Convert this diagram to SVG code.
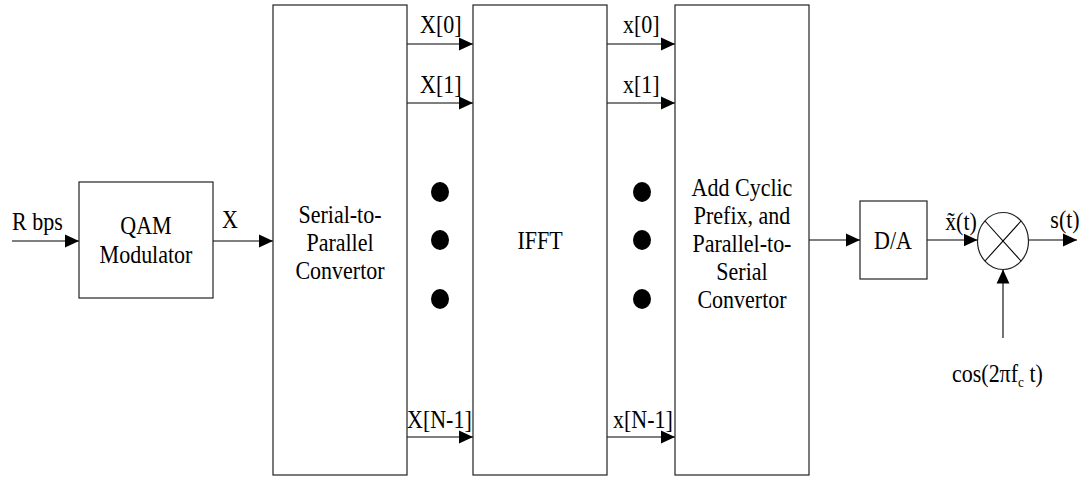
<svg xmlns="http://www.w3.org/2000/svg" width="1082" height="479" viewBox="0 0 1082 479" font-family="Liberation Serif, Times New Roman, serif">
<style>
.box{fill:#fff;stroke:#222;stroke-width:1.2}
.ln{stroke:#000;stroke-width:1.1;fill:none}
.t{font-size:25px;fill:#000}
.c{text-anchor:middle}
.dot{fill:#000}
</style>
<defs>
<marker id="ah" markerUnits="userSpaceOnUse" markerWidth="14" markerHeight="14" viewBox="0 0 12 12" refX="12" refY="6" orient="auto">
<path d="M0,0.5 L12,6 L0,11.5 Z" fill="#000"/>
</marker>
</defs>
<g id="connectors">
<line class="ln" x1="12" y1="241" x2="79" y2="241" marker-end="url(#ah)"/>
<line class="ln" x1="213" y1="241" x2="273" y2="241" marker-end="url(#ah)"/>
<line class="ln" x1="407" y1="44" x2="473" y2="44" marker-end="url(#ah)"/>
<line class="ln" x1="407" y1="103" x2="473" y2="103" marker-end="url(#ah)"/>
<line class="ln" x1="407" y1="437" x2="473" y2="437" marker-end="url(#ah)"/>
<line class="ln" x1="607" y1="44" x2="675" y2="44" marker-end="url(#ah)"/>
<line class="ln" x1="607" y1="103" x2="675" y2="103" marker-end="url(#ah)"/>
<line class="ln" x1="607" y1="437" x2="675" y2="437" marker-end="url(#ah)"/>
<line class="ln" x1="809" y1="240" x2="860" y2="240" marker-end="url(#ah)"/>
<line class="ln" x1="927" y1="240" x2="977.5" y2="240" marker-end="url(#ah)"/>
<line class="ln" x1="1028.5" y1="240" x2="1077" y2="240" marker-end="url(#ah)"/>
<line class="ln" x1="1003" y1="338" x2="1003" y2="269.5" marker-end="url(#ah)"/>
</g>
<g id="qam">
<rect class="box" x="79" y="182" width="134" height="116"/>
<text class="t c" transform="translate(146,234) scale(0.88,1)">QAM</text>
<text class="t c" transform="translate(146,263) scale(0.88,1)">Modulator</text>
</g>
<g id="sp">
<rect class="box" x="273" y="5" width="134" height="470"/>
<text class="t c" transform="translate(340,223) scale(0.88,1)">Serial-to-</text>
<text class="t c" transform="translate(340,251) scale(0.88,1)">Parallel</text>
<text class="t c" transform="translate(340,279) scale(0.88,1)">Convertor</text>
</g>
<g id="ifft">
<rect class="box" x="473" y="5" width="134" height="470"/>
<text class="t c" transform="translate(540,248.5) scale(0.88,1)">IFFT</text>
</g>
<g id="acp">
<rect class="box" x="675" y="5" width="134" height="470"/>
<text class="t c" transform="translate(742,196) scale(0.88,1)">Add Cyclic</text>
<text class="t c" transform="translate(742,224) scale(0.88,1)">Prefix, and</text>
<text class="t c" transform="translate(742,252) scale(0.88,1)">Parallel-to-</text>
<text class="t c" transform="translate(742,280) scale(0.88,1)">Serial</text>
<text class="t c" transform="translate(742,308) scale(0.88,1)">Convertor</text>
</g>
<g id="da">
<rect class="box" x="860" y="201" width="67" height="78"/>
<text class="t c" transform="translate(893,249) scale(0.88,1)">D/A</text>
</g>
<g id="mixer">
<ellipse cx="1003" cy="241" rx="25.5" ry="28.5" fill="#fff" stroke="#222" stroke-width="1.2"/>
<line class="ln" x1="985" y1="221" x2="1021" y2="261"/>
<line class="ln" x1="1021" y1="221" x2="985" y2="261"/>
</g>
<g id="dots">
<ellipse class="dot" cx="440" cy="192" rx="9" ry="10"/>
<ellipse class="dot" cx="440" cy="240" rx="9" ry="10"/>
<ellipse class="dot" cx="440" cy="299" rx="9" ry="10"/>
<ellipse class="dot" cx="642" cy="192" rx="9" ry="10"/>
<ellipse class="dot" cx="642" cy="240" rx="9" ry="10"/>
<ellipse class="dot" cx="642" cy="299" rx="9" ry="10"/>
</g>
<g id="labels">
<text class="t" transform="translate(12,230) scale(0.88,1)">R bps</text>
<text class="t c" transform="translate(230,228) scale(0.88,1)">X</text>
<text class="t" transform="translate(420,33) scale(0.88,1)">X[0]</text>
<text class="t" transform="translate(420,93) scale(0.88,1)">X[1]</text>
<text class="t" transform="translate(407,428) scale(0.88,1)">X[N-1]</text>
<text class="t" transform="translate(623,33) scale(0.88,1)">x[0]</text>
<text class="t" transform="translate(623,93) scale(0.88,1)">x[1]</text>
<text class="t" transform="translate(613,428) scale(0.88,1)">x[N-1]</text>
<text class="t c" transform="translate(961,230) scale(0.88,1)">x̃(t)</text>
<text class="t c" transform="translate(1065,228) scale(0.88,1)">s(t)</text>
<text class="t" transform="translate(952,382) scale(0.88,1)">cos(2πf<tspan font-size="15" dy="5">c</tspan><tspan dy="-5"> t)</tspan></text>
</g>
</svg>
